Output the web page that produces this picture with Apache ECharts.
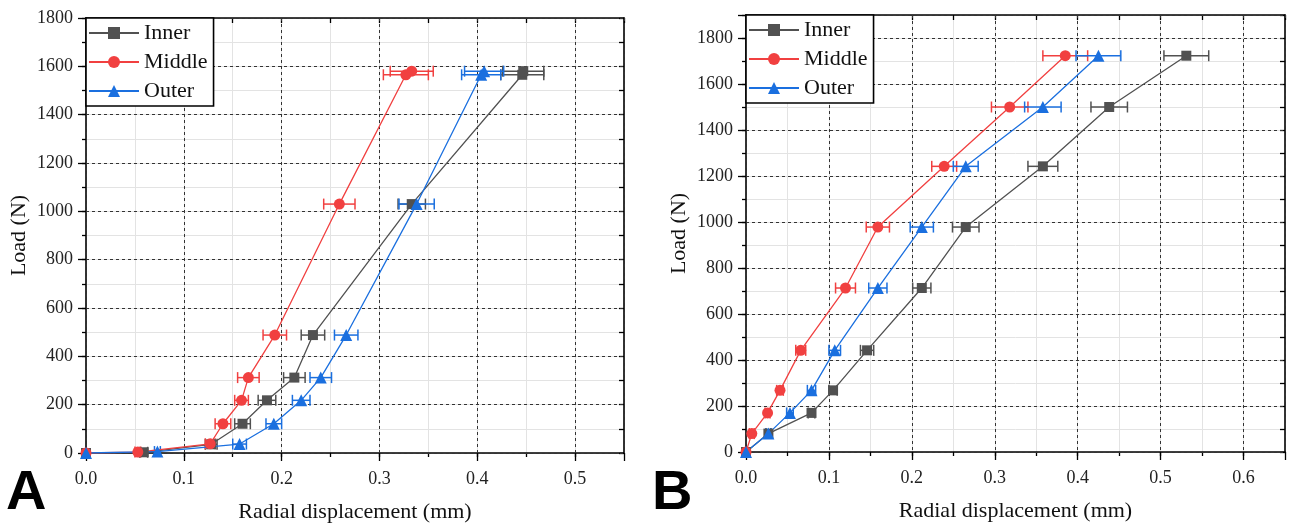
<!DOCTYPE html>
<html>
<head>
<meta charset="utf-8">
<script src="https://cdn.jsdelivr.net/npm/echarts@6/dist/echarts.min.js"></script>
<style>html,body{margin:0;padding:0;background:#fff}#c{width:1290px;height:523px}</style>
</head>
<body>
<div id="c"></div>
<script>
// ---- Panel A data ----
const A_loadInner  = [0, 3, 36, 121, 218, 312, 488, 1030, 1565, 1580];
const A_dispInner  = [0, 0.059, 0.128, 0.160, 0.185, 0.213, 0.232, 0.333, 0.446, 0.447];
const A_errInner   = [0, 0.004, 0.006, 0.008, 0.009, 0.011, 0.012, 0.014, 0.022, 0.021];
const A_loadMiddle = [0, 4, 38, 121, 218, 312, 488, 1030, 1565, 1580];
const A_dispMiddle = [0, 0.053, 0.127, 0.140, 0.159, 0.166, 0.193, 0.259, 0.327, 0.333];
const A_errMiddle  = [0, 0.003, 0.005, 0.008, 0.007, 0.011, 0.012, 0.016, 0.023, 0.022];
const A_loadOuter  = [0, 6, 37, 121, 218, 312, 488, 1030, 1565, 1580];
const A_dispOuter  = [0, 0.073, 0.157, 0.192, 0.220, 0.240, 0.266, 0.338, 0.404, 0.407];
const A_errOuter   = [0, 0.003, 0.007, 0.008, 0.009, 0.011, 0.012, 0.018, 0.020, 0.020];

// ---- Panel B data ----
const B_load       = [0, 80, 170, 268, 442, 713, 978, 1242, 1500, 1723];
const B_dispInner  = [0, 0.027, 0.079, 0.105, 0.146, 0.212, 0.265, 0.358, 0.438, 0.531];
const B_errInner   = [0, 0.003, 0.004, 0.005, 0.008, 0.011, 0.016, 0.018, 0.022, 0.027];
const B_dispMiddle = [0, 0.007, 0.026, 0.041, 0.066, 0.120, 0.159, 0.239, 0.318, 0.385];
const B_errMiddle  = [0, 0.003, 0.003, 0.004, 0.006, 0.012, 0.014, 0.015, 0.022, 0.027];
const B_dispOuter  = [0, 0.027, 0.053, 0.079, 0.107, 0.159, 0.212, 0.265, 0.358, 0.425];
const B_errOuter   = [0, 0.003, 0.004, 0.005, 0.007, 0.011, 0.014, 0.015, 0.022, 0.027];

const seriesNames = ['Inner', 'Middle', 'Outer'];
const xTitle = 'Radial displacement (mm)';
const yTitle = 'Load (N)';
const panelLetters = ['A', 'B'];
const xMaxes = [0.55, 0.65];
const yMaxes = [1800, 1900];

const colors = {Inner: '#515151', Middle: '#F14040', Outer: '#1A6FDF'};
const symbols = {Inner: 'rect', Middle: 'circle', Outer: 'triangle'};
const symSize = {Inner: 10, Middle: 11, Outer: 12};
const SERIF = '"Liberation Serif","Times New Roman",serif';

const chart = echarts.init(document.getElementById('c'), null, {renderer: 'canvas'});

const grids = [
  {left: 86, top: 18, width: 538, height: 435, containLabel: false, outerBoundsMode: 'none'},
  {left: 746, top: 15, width: 539, height: 437, containLabel: false, outerBoundsMode: 'none'}
];

const xAxes = [], yAxes = [], series = [];
const axisLineStyle = {color: '#000', width: 1.6};

grids.forEach((g, gi) => {
  const xm = xMaxes[gi], ym = yMaxes[gi];
  const xb = xAxes.length, yb = yAxes.length;
  xAxes.push({gridIndex: gi, type: 'value', position: 'bottom', min: 0, max: xm, interval: 0.05,
    axisLine: {show: true, onZero: false, lineStyle: axisLineStyle},
    axisTick: {show: true, inside: false, length: 4, lineStyle: {color: '#000', width: 1.3}},
    axisLabel: {show: true, margin: 17, fontFamily: SERIF, fontSize: 18, color: '#222',
      showMaxLabel: false,
      formatter: v => (Math.round(v * 100) % 10 === 0 ? v.toFixed(1) : '')},
    splitLine: {show: true, lineStyle: {color: '#e3e3e3', width: 1, type: 'solid'}},
    name: xTitle, nameLocation: 'middle', nameGap: 48,
    nameTextStyle: {fontFamily: SERIF, fontSize: 22, color: '#111'}, z: 2});
  xAxes.push({gridIndex: gi, type: 'value', position: 'top', min: 0, max: xm, interval: 0.05,
    axisLine: {show: true, onZero: false, lineStyle: axisLineStyle},
    axisTick: {show: true, inside: true, length: 5, lineStyle: {color: '#000', width: 1.3}},
    axisLabel: {show: false}, splitLine: {show: false}, z: 2});
  xAxes.push({gridIndex: gi, type: 'value', position: 'bottom', min: 0, max: xm, interval: 0.1,
    axisLine: {show: false, onZero: false},
    axisTick: {show: true, inside: false, length: 8, lineStyle: {color: '#000', width: 1.3}},
    axisLabel: {show: false},
    splitLine: {show: true, lineStyle: {color: '#333', width: 1, type: [3, 3]}}, z: 3});

  yAxes.push({gridIndex: gi, type: 'value', position: 'left', min: 0, max: ym, interval: 100,
    axisLine: {show: true, onZero: false, lineStyle: axisLineStyle},
    axisTick: {show: true, inside: false, length: 4, lineStyle: {color: '#000', width: 1.3}},
    axisLabel: {show: true, margin: 13, fontFamily: SERIF, fontSize: 18, color: '#222',
      formatter: v => (v % 200 === 0 && v <= 1800 ? String(v) : '')},
    splitLine: {show: true, lineStyle: {color: '#e3e3e3', width: 1, type: 'solid'}},
    name: yTitle, nameLocation: 'middle', nameGap: 56,
    nameTextStyle: {fontFamily: SERIF, fontSize: 22, color: '#111'}, z: 2});
  yAxes.push({gridIndex: gi, type: 'value', position: 'right', min: 0, max: ym, interval: 100,
    axisLine: {show: true, onZero: false, lineStyle: axisLineStyle},
    axisTick: {show: true, inside: true, length: 5, lineStyle: {color: '#000', width: 1.3}},
    axisLabel: {show: false}, splitLine: {show: false}, z: 2});
  yAxes.push({gridIndex: gi, type: 'value', position: 'left', min: 0, max: ym, interval: 200,
    axisLine: {show: false, onZero: false},
    axisTick: {show: true, inside: false, length: 8, lineStyle: {color: '#000', width: 1.3}},
    axisLabel: {show: false},
    splitLine: {show: true, lineStyle: {color: '#333', width: 1, type: [3, 3]}}, z: 3});

  const sets = gi === 0 ? [
    ['Inner', A_dispInner, A_loadInner, A_errInner],
    ['Middle', A_dispMiddle, A_loadMiddle, A_errMiddle],
    ['Outer', A_dispOuter, A_loadOuter, A_errOuter]
  ] : [
    ['Inner', B_dispInner, B_load, B_errInner],
    ['Middle', B_dispMiddle, B_load, B_errMiddle],
    ['Outer', B_dispOuter, B_load, B_errOuter]
  ];
  sets.forEach(([name, xs, ys, es]) => {
    const col = colors[name];
    series.push({
      type: 'custom', name: name + ' error', xAxisIndex: xb, yAxisIndex: yb, z: 4,
      data: xs.map((x, i) => [x, ys[i], es[i]]),
      encode: {x: 0, y: 1},
      silent: true,
      renderItem: (params, api) => {
        const x = api.value(0), y = api.value(1), e = api.value(2);
        if (!e) return null;
        const p1 = api.coord([x - e, y]), p2 = api.coord([x + e, y]);
        const h = 5.5;
        const st = {stroke: col, lineWidth: 1.5};
        return {type: 'group', children: [
          {type: 'line', shape: {x1: p1[0], y1: p1[1], x2: p2[0], y2: p2[1]}, style: st},
          {type: 'line', shape: {x1: p1[0], y1: p1[1] - h, x2: p1[0], y2: p1[1] + h}, style: st},
          {type: 'line', shape: {x1: p2[0], y1: p2[1] - h, x2: p2[0], y2: p2[1] + h}, style: st}
        ]};
      }
    });
    series.push({
      type: 'line', name: name, xAxisIndex: xb, yAxisIndex: yb, z: 5,
      data: xs.map((x, i) => [x, ys[i]]),
      symbol: symbols[name], symbolSize: symSize[name], showAllSymbol: true,
      lineStyle: {color: col, width: 1.3},
      itemStyle: {color: col},
      animation: false
    });
  });
});

const legends = grids.map((g, gi) => ({
  data: seriesNames, orient: 'vertical', left: g.left, top: g.top,
  backgroundColor: '#fff', borderColor: '#000', borderWidth: 1.6, borderRadius: 0,
  padding: [4, 6, 4, 2], itemGap: 7, itemWidth: 50, itemHeight: 15,
  selectedMode: false,
  textStyle: {fontFamily: SERIF, fontSize: 22, color: '#111', padding: [0, 0, 0, 0]},
  z: 10
}));

chart.setOption({
  animation: false,
  backgroundColor: '#fff',
  grid: grids,
  xAxis: xAxes,
  yAxis: yAxes,
  legend: legends,
  series: series,
  graphic: [
    {type: 'text', left: 6, top: 466, style: {text: panelLetters[0], font: 'bold 56px "Liberation Sans", Arial, sans-serif', fill: '#000'}},
    {type: 'text', left: 652, top: 466, style: {text: panelLetters[1], font: 'bold 56px "Liberation Sans", Arial, sans-serif', fill: '#000'}}
  ]
});
</script>
</body>
</html>
